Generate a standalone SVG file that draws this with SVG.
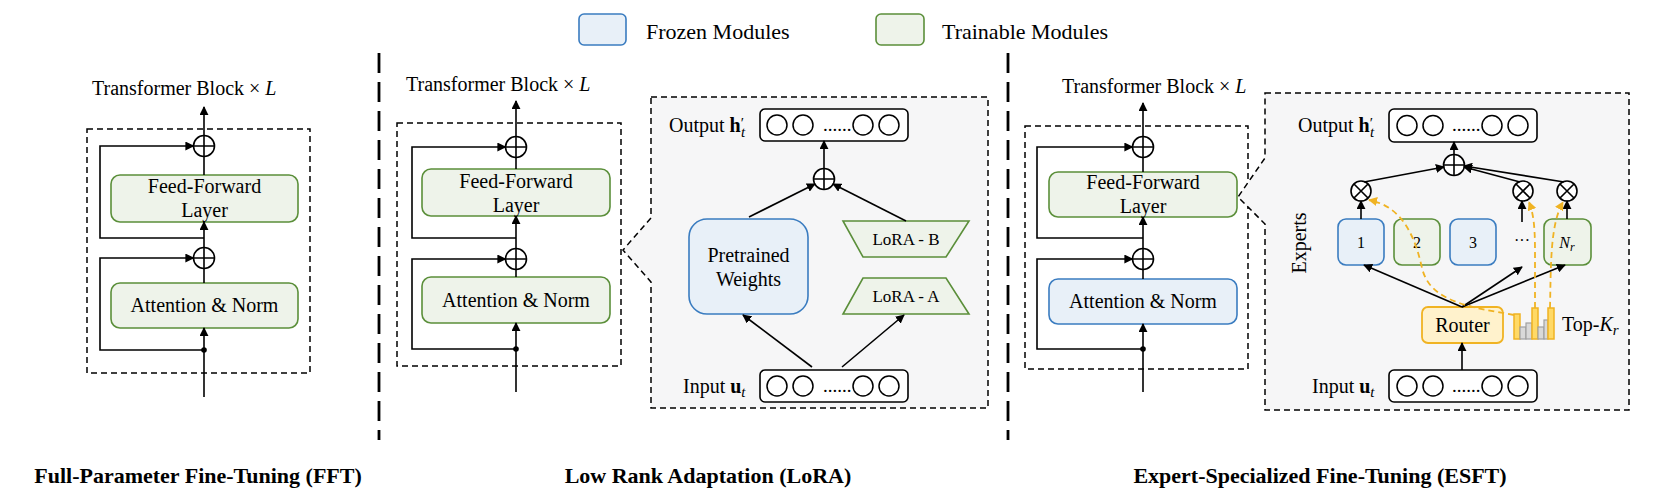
<svg xmlns="http://www.w3.org/2000/svg" width="1660" height="493" viewBox="0 0 1660 493" font-family="'Liberation Serif','Times New Roman',serif">
<defs>
<marker id="ar" viewBox="0 0 10 10" refX="9" refY="5" markerWidth="9" markerHeight="9" markerUnits="userSpaceOnUse" orient="auto"><path d="M0,0 L10,5 L0,10 Z" fill="#000"/></marker>
<marker id="ary" viewBox="0 0 10 10" refX="9" refY="5" markerWidth="9" markerHeight="9" markerUnits="userSpaceOnUse" orient="auto"><path d="M0,0 L10,5 L0,10 Z" fill="#f0b323"/></marker>
<style>
text{font-family:"Liberation Serif","Times New Roman",serif;fill:#000}
.t20{font-size:20px}
.t17{font-size:17px}
.t16{font-size:16px}
.dots{font-size:19px}
.bold{font-size:22px;font-weight:bold}
.frozen{fill:#e8f0f8;stroke:#3a7cc0;stroke-width:1.6}
.train{fill:#eef3ea;stroke:#5b8f3a;stroke-width:1.6}
.router{fill:#fff2cc;stroke:#f0b323;stroke-width:1.8}
.dbox{fill:none;stroke:#000;stroke-width:1.5;stroke-dasharray:6 4}
.panel{fill:#f6f6f7;stroke:#000;stroke-width:1.5;stroke-dasharray:6 4}
.sep{stroke:#000;stroke-width:2.8;stroke-dasharray:20 9}
.ln{fill:none;stroke:#000;stroke-width:1.6}
.arr{fill:none;stroke:#000;stroke-width:1.6;marker-end:url(#ar)}
.yarr{fill:none;stroke:#f0b323;stroke-width:1.8;stroke-dasharray:6 4;marker-end:url(#ary)}
.op{fill:#fff;stroke:#000;stroke-width:1.6}
.vec{fill:#fff;stroke:#000;stroke-width:1.6}
.cir{fill:#fff;stroke:#000;stroke-width:1.5}
.by{fill:#ffd966;stroke:#f0b323;stroke-width:1.5}
.bg{fill:#d9d9d9;stroke:#a0a0a0;stroke-width:1.2}
</style>
</defs>

<!-- legend -->
<g id="legend">
<rect x="579" y="14" width="47" height="31" rx="5" class="frozen"/>
<text x="646" y="39" style="font-size:22px">Frozen Modules</text>
<rect x="876" y="14" width="48" height="31" rx="5" class="train"/>
<text x="942" y="39" style="font-size:22px">Trainable Modules</text>
</g>

<!-- separators -->
<g id="separators">
<line x1="379" y1="53" x2="379" y2="440" class="sep"/>
<line x1="1008" y1="53" x2="1008" y2="440" class="sep"/>
</g>

<!-- ============ FFT ============ -->
<g id="fft-block">
<text x="92" y="95" class="t20">Transformer Block × <tspan font-style="italic">L</tspan></text>
<rect x="87" y="129" width="223" height="244" class="dbox"/>
</g>
<g id="fft-ffn"><rect x="111" y="175" width="187" height="47" rx="9" class="train"/>
<text x="204.5" y="193" text-anchor="middle" class="t20">Feed-Forward</text>
<text x="204.5" y="217" text-anchor="middle" class="t20">Layer</text></g>
<g id="fft-attn"><rect x="111" y="283" width="187" height="45" rx="9" class="train"/>
<text x="204.5" y="312" text-anchor="middle" class="t20">Attention &amp; Norm</text></g>
<g id="fft-plus1"><circle cx="204" cy="146" r="10.5" class="op"/><path d="M193.5,146 H214.5 M204,135.5 V156.5" class="ln"/></g>
<g id="fft-plus2"><circle cx="204" cy="258" r="10.5" class="op"/><path d="M193.5,258 H214.5 M204,247.5 V268.5" class="ln"/></g>

<!-- ============ LoRA ============ -->
<g id="lora-block">
<text x="406" y="91" class="t20">Transformer Block × <tspan font-style="italic">L</tspan></text>
<rect x="397" y="123" width="224" height="243" class="dbox"/>
</g>
<g id="lora-ffn"><rect x="422" y="169" width="188" height="47" rx="9" class="train"/>
<text x="516" y="188" text-anchor="middle" class="t20">Feed-Forward</text>
<text x="516" y="212" text-anchor="middle" class="t20">Layer</text></g>
<g id="lora-attn"><rect x="422" y="277" width="188" height="46" rx="9" class="train"/>
<text x="516" y="307" text-anchor="middle" class="t20">Attention &amp; Norm</text></g>
<g id="lora-plus1"><circle cx="516" cy="147" r="10.5" class="op"/><path d="M505.5,147 H526.5 M516,136.5 V157.5" class="ln"/></g>
<g id="lora-plus2"><circle cx="516" cy="259" r="10.5" class="op"/><path d="M505.5,259 H526.5 M516,248.5 V269.5" class="ln"/></g>

<g id="lora-panel">
<path d="M651,97 H988 V408 H651 V282 L623,250 L651,218 Z" class="panel"/>
</g>
<g id="lora-output">
<text x="669" y="132" class="t20">Output <tspan font-weight="bold">h</tspan><tspan dy="-4" font-size="15">′</tspan><tspan dx="-3" dy="9" font-size="15" font-style="italic">t</tspan></text>
<rect x="760" y="109" width="148" height="32" rx="5" class="vec"/>
<circle cx="777" cy="125" r="10" class="cir"/><circle cx="803" cy="125" r="10" class="cir"/>
<circle cx="863" cy="125" r="10" class="cir"/><circle cx="889" cy="125" r="10" class="cir"/>
<text x="823" y="131" class="dots">......</text>
</g>
<g id="lora-input">
<text x="683" y="393" class="t20">Input <tspan font-weight="bold">u</tspan><tspan dy="4" font-size="15" font-style="italic">t</tspan></text>
<rect x="760" y="370" width="148" height="32" rx="5" class="vec"/>
<circle cx="777" cy="386" r="10" class="cir"/><circle cx="803" cy="386" r="10" class="cir"/>
<circle cx="863" cy="386" r="10" class="cir"/><circle cx="889" cy="386" r="10" class="cir"/>
<text x="823" y="392" class="dots">......</text>
</g>
<g id="lora-plus"><circle cx="824" cy="179" r="10.5" class="op"/><path d="M813.5,179 H834.5 M824,168.5 V189.5" class="ln"/></g>
<g id="pretrained"><rect x="689" y="219" width="119" height="95" rx="18" class="frozen"/>
<text x="748.5" y="262" text-anchor="middle" class="t20">Pretrained</text>
<text x="748.5" y="286" text-anchor="middle" class="t20">Weights</text></g>
<g id="lora-b"><polygon points="843,221 969,221 946,257 863,257" class="train"/>
<text x="906" y="245" text-anchor="middle" class="t17">LoRA - B</text></g>
<g id="lora-a"><polygon points="863,278 946,278 969,314 843,314" class="train"/>
<text x="906" y="302" text-anchor="middle" class="t17">LoRA - A</text></g>

<!-- ============ ESFT ============ -->
<g id="esft-block">
<text x="1062" y="93" class="t20">Transformer Block × <tspan font-style="italic">L</tspan></text>
<rect x="1025" y="126" width="223" height="243" class="dbox"/>
</g>
<g id="esft-panel">
<path d="M1265,93 H1629 V410 H1265 V224 L1238,197 L1265,158 Z" class="panel"/>
</g>
<g id="esft-ffn"><rect x="1049" y="172" width="188" height="45" rx="9" class="train"/>
<text x="1143" y="189" text-anchor="middle" class="t20">Feed-Forward</text>
<text x="1143" y="213" text-anchor="middle" class="t20">Layer</text></g>
<g id="esft-attn"><rect x="1049" y="279" width="188" height="45" rx="9" class="frozen"/>
<text x="1143" y="308" text-anchor="middle" class="t20">Attention &amp; Norm</text></g>
<g id="esft-plus1"><circle cx="1143" cy="147" r="10.5" class="op"/><path d="M1132.5,147 H1153.5 M1143,136.5 V157.5" class="ln"/></g>
<g id="esft-plus2"><circle cx="1143" cy="259" r="10.5" class="op"/><path d="M1132.5,259 H1153.5 M1143,248.5 V269.5" class="ln"/></g>

<g id="esft-output">
<text x="1298" y="132" class="t20">Output <tspan font-weight="bold">h</tspan><tspan dy="-4" font-size="15">′</tspan><tspan dx="-3" dy="9" font-size="15" font-style="italic">t</tspan></text>
<rect x="1389" y="109" width="148" height="33" rx="5" class="vec"/>
<circle cx="1407" cy="125.5" r="10" class="cir"/><circle cx="1433" cy="125.5" r="10" class="cir"/>
<circle cx="1492" cy="125.5" r="10" class="cir"/><circle cx="1518" cy="125.5" r="10" class="cir"/>
<text x="1452" y="131" class="dots">......</text>
</g>
<g id="esft-input">
<text x="1312" y="393" class="t20">Input <tspan font-weight="bold">u</tspan><tspan dy="4" font-size="15" font-style="italic">t</tspan></text>
<rect x="1389" y="370" width="148" height="32" rx="5" class="vec"/>
<circle cx="1407" cy="386" r="10" class="cir"/><circle cx="1433" cy="386" r="10" class="cir"/>
<circle cx="1492" cy="386" r="10" class="cir"/><circle cx="1518" cy="386" r="10" class="cir"/>
<text x="1452" y="392" class="dots">......</text>
</g>
<g id="esft-plus"><circle cx="1454" cy="165" r="10.5" class="op"/><path d="M1443.5,165 H1464.5 M1454,154.5 V175.5" class="ln"/></g>
<g id="otimes-1"><circle cx="1361" cy="191" r="10" class="op"/><path d="M1354,184 L1368,198 M1368,184 L1354,198" class="ln"/></g>
<g id="otimes-2"><circle cx="1523" cy="191" r="10" class="op"/><path d="M1516,184 L1530,198 M1530,184 L1516,198" class="ln"/></g>
<g id="otimes-3"><circle cx="1567" cy="191" r="10" class="op"/><path d="M1560,184 L1574,198 M1574,184 L1560,198" class="ln"/></g>
<g id="expert-1"><rect x="1338" y="219" width="46" height="46" rx="8" class="frozen"/><text x="1361" y="248" text-anchor="middle" class="t16">1</text></g>
<g id="expert-2"><rect x="1394" y="219" width="46" height="46" rx="8" class="train"/><text x="1417" y="248" text-anchor="middle" class="t16">2</text></g>
<g id="expert-3"><rect x="1450" y="219" width="46" height="46" rx="8" class="frozen"/><text x="1473" y="248" text-anchor="middle" class="t16">3</text></g>
<g id="expert-dots"><text x="1522" y="246" text-anchor="middle" class="t16">···</text></g>
<g id="expert-n"><rect x="1544" y="219" width="47" height="46" rx="8" class="train"/><text x="1567" y="248" text-anchor="middle" class="t16"><tspan font-style="italic">N</tspan><tspan dy="3" font-size="12" font-style="italic">r</tspan></text></g>
<g id="experts-label"><text transform="translate(1306,243) rotate(-90)" text-anchor="middle" class="t20">Experts</text></g>
<g id="router"><rect x="1422" y="307" width="81" height="36" rx="6" class="router"/><text x="1462.5" y="332" text-anchor="middle" class="t20">Router</text></g>
<g id="topk">
<rect x="1514" y="314" width="6" height="25" class="by"/>
<rect x="1520" y="327" width="6" height="12" class="bg"/>
<rect x="1526" y="323" width="6" height="16" class="bg"/>
<rect x="1532" y="308" width="6" height="31" class="by"/>
<rect x="1538" y="327" width="6" height="12" class="bg"/>
<rect x="1544" y="320" width="4" height="19" class="bg"/>
<rect x="1548" y="308" width="6" height="31" class="by"/>
<text x="1562" y="331" class="t20">Top-<tspan font-style="italic">K</tspan><tspan dy="4" font-size="15" font-style="italic">r</tspan></text>
</g>

<!-- connectors -->
<g id="connectors">
<!-- FFT -->
<path d="M204,397 V328" class="arr"/>
<path d="M204,283 V268.5" class="ln"/>
<path d="M204,247.5 V222" class="arr"/>
<path d="M204,175 V156.5" class="ln"/>
<path d="M204,135.5 V107" class="arr"/>
<path d="M204,238 H100 V146 H193.5" class="arr"/>
<path d="M204,350 H100 V258 H193.5" class="arr"/>
<circle cx="204" cy="350" r="2.8" fill="#000"/>
<!-- LoRA block -->
<path d="M516,392 V323" class="arr"/>
<path d="M516,277 V269.5" class="ln"/>
<path d="M516,248.5 V216" class="arr"/>
<path d="M516,169 V157.5" class="ln"/>
<path d="M516,136.5 V101" class="arr"/>
<path d="M516,238 H412 V147 H505.5" class="arr"/>
<path d="M516,349 H412 V259 H505.5" class="arr"/>
<circle cx="516" cy="349" r="2.8" fill="#000"/>
<!-- LoRA panel -->
<path d="M812,367 L743,315" class="arr"/>
<path d="M842,367 L904,315" class="arr"/>
<path d="M749,217 L815,184" class="arr"/>
<path d="M906,221 L833,184" class="arr"/>
<path d="M824,168.5 V141" class="arr"/>
<!-- ESFT block -->
<path d="M1143,392 V324" class="arr"/>
<path d="M1143,279 V269.5" class="ln"/>
<path d="M1143,248.5 V217" class="arr"/>
<path d="M1143,172 V157.5" class="ln"/>
<path d="M1143,136.5 V103" class="arr"/>
<path d="M1143,238 H1037 V147 H1132.5" class="arr"/>
<path d="M1143,349 H1037 V259 H1132.5" class="arr"/>
<circle cx="1143" cy="349" r="2.8" fill="#000"/>
<!-- ESFT panel -->
<path d="M1462,370 V343" class="arr"/>
<path d="M1462,307 L1364,265" class="arr"/>
<path d="M1462,307 L1522,267" class="arr"/>
<path d="M1462,307 L1565,265" class="arr"/>
<path d="M1361,219 V201" class="arr"/>
<path d="M1522,222 V201" class="arr"/>
<path d="M1567,219 V201" class="arr"/>
<path d="M1364,182 L1444,167" class="arr"/>
<path d="M1520,182 L1464,167" class="arr"/>
<path d="M1564,182 L1464,166" class="arr"/>
<path d="M1454,154.5 V142" class="arr"/>
<path d="M1514,315 C1470,307 1430,302 1422,268 C1414,232 1400,206 1369,200" class="yarr"/>
<path d="M1535,308 V250 C1535,225 1533,212 1529,202" class="yarr"/>
<path d="M1550,308 C1551,265 1550,225 1563,202" class="yarr"/>
</g>

<!-- captions -->
<g id="captions">
<text x="198" y="483" text-anchor="middle" class="bold">Full-Parameter Fine-Tuning (FFT)</text>
<text x="708" y="483" text-anchor="middle" class="bold">Low Rank Adaptation (LoRA)</text>
<text x="1320" y="483" text-anchor="middle" class="bold">Expert-Specialized Fine-Tuning (ESFT)</text>
</g>
</svg>
